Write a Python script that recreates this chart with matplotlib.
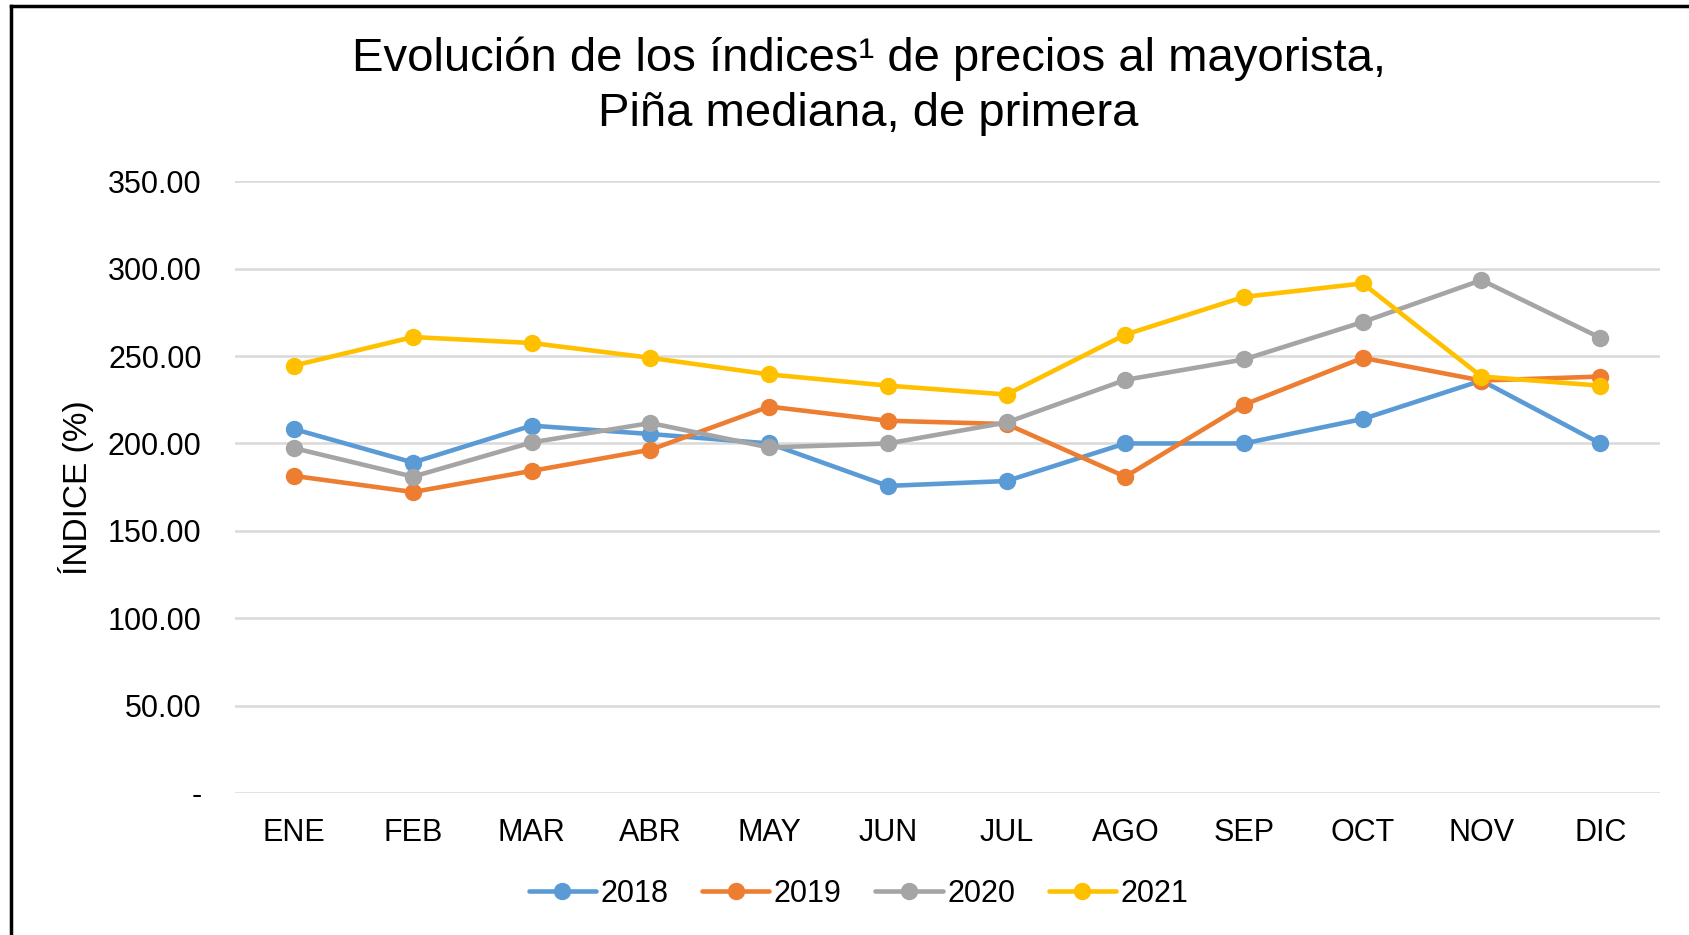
import matplotlib.pyplot as plt
from matplotlib.lines import Line2D
from matplotlib.ticker import FuncFormatter, MultipleLocator

plt.rcParams['font.family'] = ['Liberation Sans', 'DejaVu Sans']

meses = ['ENE', 'FEB', 'MAR', 'ABR', 'MAY', 'JUN', 'JUL', 'AGO', 'SEP', 'OCT', 'NOV', 'DIC']
anios = ['2018', '2019', '2020', '2021']
indice_2018 = [208.2, 189.1, 210.2, 205.4, 200.0, 175.7, 178.5, 200.0, 200.0, 214.0, 236.0, 200.0]
indice_2019 = [181.4, 172.2, 184.3, 196.4, 221.1, 213.0, 211.1, 181.0, 222.2, 249.0, 236.0, 238.3]
indice_2020 = [197.3, 181.0, 200.6, 211.7, 197.7, 200.0, 212.0, 236.4, 248.1, 269.5, 293.5, 260.5]
indice_2021 = [244.6, 260.9, 257.5, 249.0, 239.5, 233.1, 228.0, 262.3, 283.9, 291.6, 238.3, 233.1]
colores = ['#5B9BD5', '#ED7D31', '#A5A5A5', '#FFC000']

fig = plt.figure(figsize=(16.9, 9.35), dpi=100)
ax = fig.add_axes([0.139, 0.152, 0.843, 0.654])

x = range(len(meses))
for serie, anio, color in zip([indice_2018, indice_2019, indice_2020, indice_2021], anios, colores):
    ax.plot(x, serie, color=color, lw=3.3, marker='o', markersize=11.5,
            label=anio, solid_capstyle='round')

ax.set_xlim(-0.5, len(meses) - 0.5)
ax.set_ylim(0, 350)
ax.yaxis.set_major_locator(MultipleLocator(50))
ax.yaxis.set_major_formatter(FuncFormatter(lambda v, p: '-' if v == 0 else f'{v:.2f}'))
ax.set_xticks(list(x))
ax.set_xticklabels(meses)
ax.grid(axis='y', color='#D9D9D9', lw=1.8)
ax.set_axisbelow(True)
for s in ax.spines.values():
    s.set_visible(False)
ax.tick_params(axis='both', length=0, labelsize=22, colors='#000000')
ax.tick_params(axis='y', pad=24)
ax.tick_params(axis='x', pad=18)
ax.set_ylabel('ÍNDICE (%)', fontsize=24, labelpad=10)

fig.text(0.514, 0.9075, 'Evolución de los índices¹ de precios al mayorista,\nPiña mediana, de primera',
         ha='center', va='center', fontsize=34, linespacing=1.32)

ax.legend(loc='center', bbox_to_anchor=(0.508, 0.044), bbox_transform=fig.transFigure,
          ncol=4, frameon=False, fontsize=22, handlelength=2.2, handletextpad=0.15,
          columnspacing=1.1)

# marco izquierdo y superior
fig.add_artist(Line2D([0.0065, 0.0065], [0, 0.994], transform=fig.transFigure, color='black', lw=2.5))
fig.add_artist(Line2D([0.0065, 1], [0.994, 0.994], transform=fig.transFigure, color='black', lw=2.5))

fig.savefig('out.png', dpi=100)
